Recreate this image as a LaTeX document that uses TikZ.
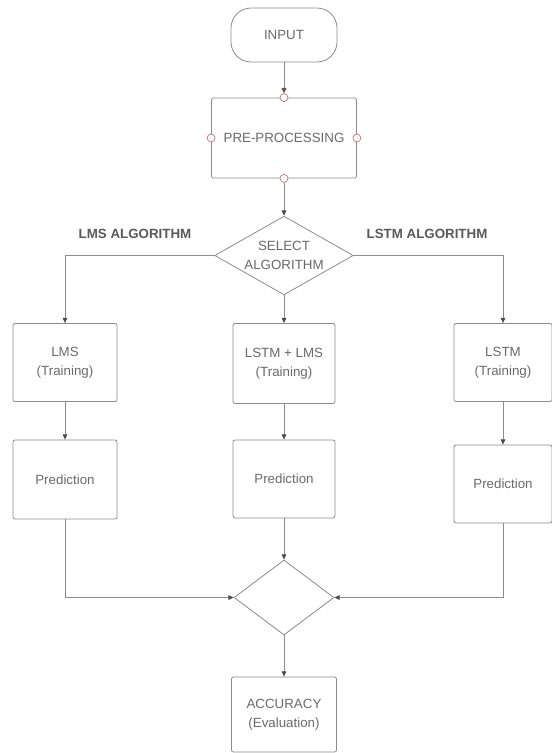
\documentclass[tikz,border=0pt]{standalone}
\usepackage{fontspec}
\setmainfont{Liberation Sans}
\usetikzlibrary{shapes.geometric,arrows.meta}
\definecolor{linegray}{HTML}{8C8C8C}
\definecolor{textgray}{HTML}{6A6A6A}
\definecolor{portred}{HTML}{C46A6A}
\begin{document}
\begin{tikzpicture}[x=0.75pt,y=-0.75pt,
  every node/.style={font=\fontsize{10}{14}\selectfont, text=textgray},
  box/.style={draw=linegray, line width=0.6pt, rounded corners=1.5pt, align=center, inner sep=0pt},
  dia/.style={draw=linegray, line width=0.6pt, diamond, inner sep=0pt},
  conn/.style={draw=linegray, line width=0.6pt, -{Triangle[length=4pt,width=3.5pt,fill=black!70,color=black!70]}},
  port/.style={circle, draw=portred, fill=white, line width=0.5pt, minimum size=6pt, inner sep=0pt},
  lbl/.style={font=\fontsize{10}{12}\selectfont\bfseries, text=black!65}]
\useasboundingbox[fill=white] (0,0) rectangle (552,753);

\node[box, rounded corners=15pt, minimum width=79.5pt, minimum height=40.5pt] (input) at (284,35) {INPUT};
\node[box, rounded corners=1pt, minimum width=108.75pt, minimum height=60pt] (pre) at (284,138) {PRE-PROCESSING};
\node[port] (pt) at (pre.north) {};
\node[port] (pb) at (pre.south) {};
\node[port] (pl) at (pre.west) {};
\node[port] (pr) at (pre.east) {};

\node[dia, minimum width=104pt, minimum height=59pt] (sel) at (284,255.5) {};
\node[align=center] (seltxt) at (sel.center) {SELECT\\ALGORITHM};

\node[lbl] (lmslbl) at (135,234) {LMS ALGORITHM};
\node[lbl] (lstmlbl) at (427,234) {LSTM ALGORITHM};

\node[box, minimum width=78pt, minimum height=58.5pt] (lms) at (65,362.5) {LMS\\(Training)};
\node[box, minimum width=76.5pt, minimum height=60pt] (mix) at (284,363.5) {LSTM + LMS\\(Training)};
\node[box, minimum width=73.5pt, minimum height=58.5pt] (lstm) at (503,362.5) {LSTM\\(Training)};

\node[box, minimum width=78pt, minimum height=59.25pt] (p1) at (65,479.5) {Prediction};
\node[box, minimum width=76.5pt, minimum height=58.5pt] (p2) at (284,479) {Prediction};
\node[box, minimum width=73.5pt, minimum height=58.5pt] (p3) at (503,484) {Prediction};

\node[dia, minimum width=75pt, minimum height=56.25pt] (merge) at (284,597.5) {};
\node[box, minimum width=78.75pt, minimum height=56.25pt] (acc) at (284,714.5) {ACCURACY\\(Evaluation)};

\draw[conn] (input.south) -- (pt.north);
\draw[conn] (pb.south) -- (sel.north);
\draw[conn] (sel.west) -| (lms.north);
\draw[conn] (sel.east) -| (lstm.north);
\draw[conn] (sel.south) -- (mix.north);
\draw[conn] (lms.south) -- (p1.north);
\draw[conn] (mix.south) -- (p2.north);
\draw[conn] (lstm.south) -- (p3.north);
\draw[conn] (p1.south) |- (merge.west);
\draw[conn] (p3.south) |- (merge.east);
\draw[conn] (p2.south) -- (merge.north);
\draw[conn] (merge.south) -- (acc.north);
\end{tikzpicture}
\end{document}
